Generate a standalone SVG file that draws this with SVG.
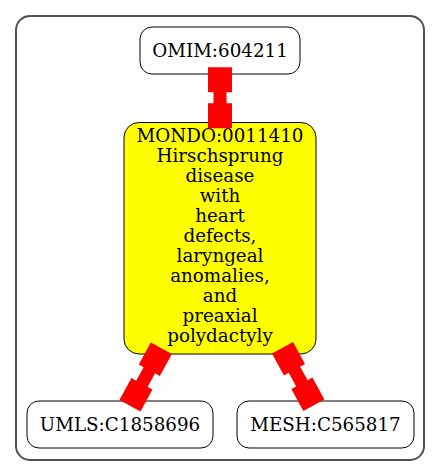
<svg xmlns="http://www.w3.org/2000/svg" width="440" height="476" viewBox="0 0 440 476">
<style>
.node rect{stroke:#000;stroke-width:1}
text{font-family:"DejaVu Serif",serif;font-size:18.3px;text-anchor:middle;fill:#000}
.edge{fill:#ff0000;stroke:none}
</style>
<defs>
<path id="e61" d="M-12,0H12V25H6.5V36H12V61H-12V36H-6.5V25H-12Z"/>
<path id="e65" d="M-12,0H12V25H6.5V40.5H12V65.5H-12V40.5H-6.5V25H-12Z"/>
</defs>
<rect x="16" y="16" width="408" height="444" rx="14" fill="#fff" stroke="#505050" stroke-width="2"/>
<g id="omim" class="node">
<rect x="140" y="27" width="160" height="47" rx="12" fill="#fff"/>
<text x="220" y="56.5">OMIM:604211</text>
</g>
<g id="mondo" class="node">
<rect x="124" y="122.5" width="192" height="231.5" rx="15" fill="#ffff00"/>
<text x="220" y="142.3">MONDO:0011410</text>
<text x="220" y="162.2">Hirschsprung</text>
<text x="220" y="182.2">disease</text>
<text x="220" y="202.1">with</text>
<text x="220" y="222.1">heart</text>
<text x="220" y="242">defects,</text>
<text x="220" y="261.9">laryngeal</text>
<text x="220" y="281.9">anomalies,</text>
<text x="220" y="301.8">and</text>
<text x="220" y="321.8">preaxial</text>
<text x="220" y="341.7">polydactyly</text>
</g>
<g id="umls" class="node">
<rect x="27" y="401" width="186" height="47" rx="12" fill="#fff"/>
<text x="120" y="430.5">UMLS:C1858696</text>
</g>
<g id="mesh" class="node">
<rect x="237" y="401" width="177" height="47" rx="12" fill="#fff"/>
<text x="325.5" y="430.5">MESH:C565817</text>
</g>
<g id="edges" class="edge">
<use href="#e61" transform="translate(220,67.3)"/>
<use href="#e65" transform="translate(161.3,348.3) rotate(28.6)"/>
<use href="#e65" transform="translate(282.5,347.8) rotate(-28.6)"/>
</g>
</svg>
